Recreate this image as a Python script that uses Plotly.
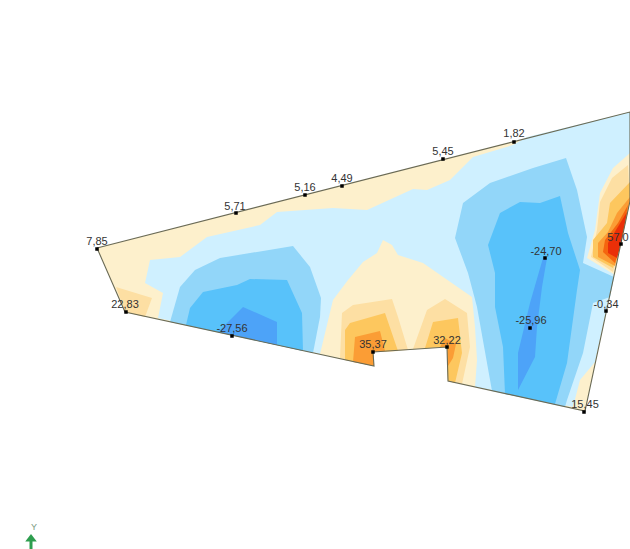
import plotly.graph_objects as go

# Outline of the slab and contour bands (x, y)
outline = [(97,248),(630,112),(630,201),(621,243),(606,310),(585,411),(448,381),(447,347),(373,352),(374,366),(125,312),(97,248)]

light_blue = [(145,283),(150,260),(180,257),(207,237),(260,225),(277,212),(333,208),(367,210),(413,189),(427,190),(450,180),(473,157),(513,145),(527,137),(630,112),(630,201),(621,243),(606,310),(595,362),(580,380),(573,407),(448,381),(447,347),(373,352),(374,366),(158,318),(163,293)]
blue_left_2 = [(170,322),(180,287),(195,270),(220,258),(293,246),(310,267),(321,298),(320,317),(313,353)]
blue_left_3 = [(186,325),(190,308),(203,292),(237,285),(250,279),(287,280),(302,313),(303,351)]
blue_left_4 = [(218,332),(243,307),(277,322),(277,345)]
blue_main_2 = [(566,158),(577,190),(587,237),(583,263),(614,277),(610,297),(593,303),(583,353),(567,400),(565,407),(492,391),(477,307),(468,273),(455,238),(463,203),(490,183),(533,168)]
blue_main_3 = [(560,196),(568,233),(580,270),(577,290),(567,363),(555,404),(505,394),(503,347),(495,307),(495,273),(488,245),(500,213),(520,202),(540,203)]
blue_main_4 = [(543,258),(547,258),(542,287),(537,327),(535,357),(518,390),(518,353),(530,303)]

cream_center = [(320,354),(333,300),(348,280),(363,262),(377,253),(383,240),(392,245),(398,255),(423,263),(447,280),(472,297),(475,327),(477,360),(475,387),(448,381),(447,347),(373,352),(374,366)]
cream_right = [(630,153),(613,168),(600,193),(595,230),(587,258),(615,275),(621,243),(630,201)]

amber_a = [(340,358),(342,313),(353,305),(392,299),(398,317),(408,350),(373,352),(374,366)]
amber_b = [(413,349),(427,310),(445,299),(467,313),(470,347),(462,384),(448,381),(447,347)]
amber_c = [(628,165),(612,178),(600,202),(597,230),(591,257),(613,272),(621,243),(630,201)]
amber_d = [(116,287),(152,298),(145,317),(125,312)]

gold_a = [(345,360),(345,330),(350,323),(385,313),(398,351),(373,352),(374,366)]
gold_b = [(425,348),(433,322),(458,318),(462,353),(455,383),(448,381),(447,347)]
gold_c = [(630,182),(610,203),(607,223),(593,240),(593,257),(613,268),(621,243),(630,201)]

orange_a = [(353,362),(355,337),(380,331),(385,351),(373,352),(374,366)]
orange_b = [(440,347),(445,338),(456,344),(453,358),(448,366),(447,347)]
orange_c = [(630,197),(617,213),(608,232),(598,243),(598,257),(615,266),(621,243),(630,201)]

red_orange = [(628,205),(618,223),(605,240),(603,252),(615,263),(621,243)]
red = [(627,212),(617,228),(608,243),(608,253),(617,258),(621,243)]

bands = [
    (outline, "#FDF0CC"),
    (light_blue, "#CFF0FF"),
    (blue_left_2, "#92D6F9"), (blue_main_2, "#92D6F9"),
    (blue_left_3, "#58C2FA"), (blue_main_3, "#58C2FA"),
    (blue_left_4, "#4DA3F8"), (blue_main_4, "#4DA3F8"),
    (cream_center, "#FDF0CC"), (cream_right, "#FDF0CC"),
    (amber_a, "#FDDFA3"), (amber_b, "#FDDFA3"), (amber_c, "#FDDFA3"), (amber_d, "#FDDFA3"),
    (gold_a, "#FDC75E"), (gold_b, "#FDC75E"), (gold_c, "#FDC75E"),
    (orange_a, "#FB9D35"), (orange_b, "#FB9D35"), (orange_c, "#FB9D35"),
    (red_orange, "#F5650F"), (red, "#EA2F08"),
]

# Measured points and their labels
point_x = [97,126,232,236,305,342,443,514,621,545,530,606,584,447,373]
point_y = [249,312,336,213,195,186,159,142,244,258,328,311,412,347,352]
label_x = [97,125,232,235,305,342,443,514,618,546,531,606,585,447,373]
label_y = [242,305,329,207,188,179,152,134,238,252,321,305,405,341,345]
labels = ["7,85","22,83","-27,56","5,71","5,16","4,49","5,45","1,82","57,0","-24,70","-25,96","-0,34","15,45","32,22","35,37"]

fig = go.Figure()
for poly, color in bands:
    xs, ys = zip(*poly)
    fig.add_trace(go.Scatter(x=xs, y=ys, mode="lines", fill="toself", fillcolor=color,
                             line=dict(width=0, color=color), hoverinfo="skip", showlegend=False))

ox, oy = zip(*outline)
fig.add_trace(go.Scatter(x=ox, y=oy, mode="lines", line=dict(color="#6A6A55", width=1.1),
                         hoverinfo="skip", showlegend=False))
fig.add_trace(go.Scatter(x=point_x, y=point_y, mode="markers",
                         marker=dict(symbol="square", size=3.5, color="#000000"),
                         hoverinfo="skip", showlegend=False))
fig.add_trace(go.Scatter(x=label_x, y=label_y, mode="text", text=labels, textposition="middle center",
                         textfont=dict(family="Liberation Sans", size=11, color="#333333"),
                         hoverinfo="skip", showlegend=False))

# Y axis triad glyph
fig.add_trace(go.Scatter(x=[31,31], y=[541,549], mode="lines", line=dict(color="#2E9E4F", width=3),
                         hoverinfo="skip", showlegend=False))
fig.add_trace(go.Scatter(x=[31], y=[539], mode="markers",
                         marker=dict(symbol="triangle-up", size=10, color="#2E9E4F"),
                         hoverinfo="skip", showlegend=False))
fig.add_trace(go.Scatter(x=[34], y=[528], mode="text", text=["Y"],
                         textfont=dict(family="Liberation Sans", size=9, color="#7A9A80"),
                         hoverinfo="skip", showlegend=False))

fig.update_layout(
    width=630, height=549, margin=dict(l=0, r=0, t=0, b=0),
    paper_bgcolor="white", plot_bgcolor="white", showlegend=False,
    xaxis=dict(range=[0,630], visible=False, fixedrange=True),
    yaxis=dict(range=[549,0], visible=False, fixedrange=True),
)
fig.write_html("out.html", config=dict(displayModeBar=False),
               post_script="document.body.style.margin='0';document.body.style.overflow='hidden';")
